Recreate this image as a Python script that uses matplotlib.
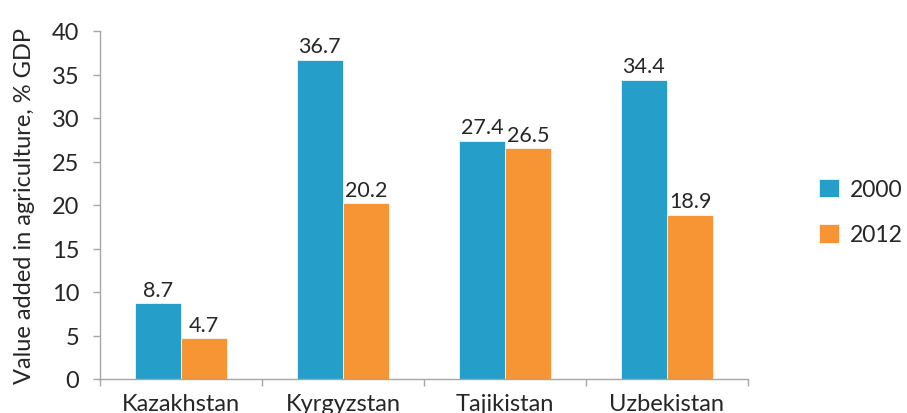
import matplotlib
matplotlib.use("Agg")
import matplotlib.pyplot as plt
import numpy as np

plt.rcParams['font.family'] = ['Lato', 'DejaVu Sans']

categories = ["Kazakhstan", "Kyrgyzstan", "Tajikistan", "Uzbekistan"]
series_names = ["2000", "2012"]
values_2000 = [8.7, 36.7, 27.4, 34.4]
values_2012 = [4.7, 20.2, 26.5, 18.9]
y_ticks = [0, 5, 10, 15, 20, 25, 30, 35, 40]

blue = "#259FCA"
orange = "#F79433"
gray = "#A6A6A6"
txt = "#262626"

fig = plt.figure(figsize=(9.07, 4.14), dpi=100)
ax = fig.add_axes([100/907, 1-380/414, 648/907, 348/414])

x = np.arange(len(categories))
w = 0.285
b1 = ax.bar(x - w/2, values_2000, w, color=blue, label=series_names[0], edgecolor='white', linewidth=0.5)
b2 = ax.bar(x + w/2, values_2012, w, color=orange, label=series_names[1], edgecolor='white', linewidth=0.5)
for bars, vals in ((b1, values_2000), (b2, values_2012)):
    for r, v in zip(bars, vals):
        ax.text(r.get_x() + r.get_width()/2, v + 0.4, f"{v:.1f}", ha='center', va='bottom', fontsize=15.5, color=txt)

ax.set_xlim(-0.5, len(categories) - 0.5)
ax.set_ylim(0, 40)
ax.set_yticks(y_ticks)
ax.set_yticklabels([str(t) for t in y_ticks], fontsize=17, color=txt)
ax.set_xticks(x)
ax.set_xticklabels(categories, fontsize=17, color=txt)
ax.tick_params(axis='x', length=0, pad=10)
ax.set_xticks(np.arange(-0.5, len(categories)), minor=True)
ax.tick_params(axis='x', which='minor', length=5, color=gray, width=1)
ax.tick_params(axis='y', length=5, color=gray, width=1, pad=10)
for s in ('top', 'right'):
    ax.spines[s].set_visible(False)
for s in ('left', 'bottom'):
    ax.spines[s].set_color(gray)
    ax.spines[s].set_linewidth(1)
ax.set_ylabel("Value added in agriculture, % GDP", fontsize=17, color=txt, labelpad=12)

fig.legend(handles=[b1, b2], labels=series_names, loc='center left',
           bbox_to_anchor=(798/907, 1-213/414), frameon=False, fontsize=16.5,
           handlelength=0.87, handleheight=0.87, labelspacing=1.05, handletextpad=0.5,
           labelcolor=txt)

fig.savefig("out.png", dpi=100)
